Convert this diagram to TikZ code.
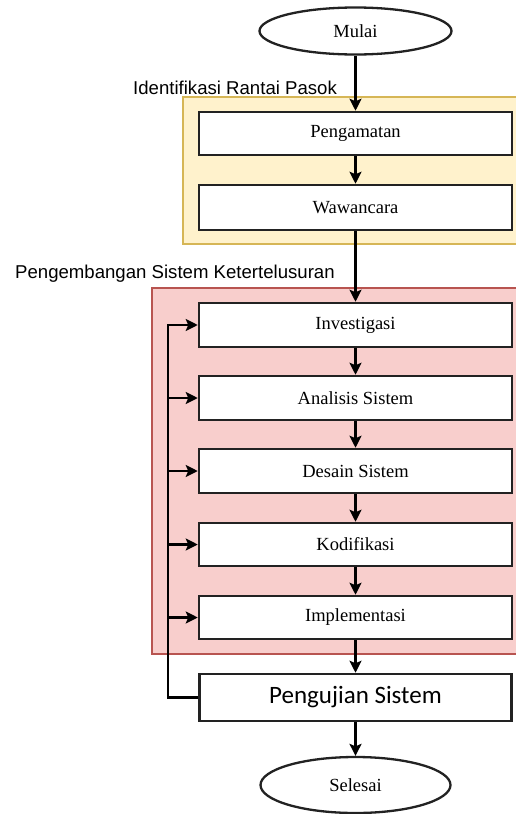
\documentclass[tikz,border=0pt]{standalone}
\usepackage{fontspec}
\setmainfont{Liberation Serif}
\newfontfamily\labfont{Liberation Sans}
\newfontfamily\calfont{Carlito}
\usetikzlibrary{arrows.meta,shapes.geometric}
\definecolor{yfill}{HTML}{FFF2CC}
\definecolor{ydraw}{HTML}{D6B656}
\definecolor{rfill}{HTML}{F8CECC}
\definecolor{rdraw}{HTML}{B85450}
\definecolor{boxline}{HTML}{222222}
\begin{document}
\begin{tikzpicture}[x=1pt,y=-1pt,
  stepbox/.style={draw=boxline,line width=2.5pt,fill=white,rectangle,minimum width=313pt,minimum height=44pt,inner sep=0pt,font=\fontsize{18.5}{20}\selectfont},
  termbox/.style={draw=boxline,line width=2.3pt,fill=white,ellipse,inner sep=0pt,font=\fontsize{18.5}{20}\selectfont},
  grouplabel/.style={anchor=west,inner sep=0pt,font=\labfont\fontsize{18.6}{20}\selectfont},
  flow/.style={line width=2.3pt,-{Stealth[length=12pt,width=12pt,inset=2.5pt]}}]
\useasboundingbox (0,0) rectangle (516,814);
\fill[white] (0,0) rectangle (516,814);
\begin{scope}
\clip (0,0) rectangle (516,814);
\draw[fill=yfill,draw=ydraw,line width=1.4pt] (183,97) rectangle (522,244);
\draw[fill=rfill,draw=rdraw,line width=1.4pt] (152,288) rectangle (522,654);
\end{scope}
\node[grouplabel] (lab1) at (133,88) {Identifikasi Rantai Pasok};
\node[grouplabel] (lab2) at (15,274) {Pengembangan Sistem Ketertelusuran};

\node[termbox,minimum width=192pt,minimum height=47pt] (mulai) at (355.5,31) {Mulai};
\node[stepbox,minimum height=43pt] (peng) at (355.5,133.5) {Pengamatan};
\node[stepbox,minimum height=45pt] (waw) at (355.5,207.5) {Wawancara};
\node[stepbox] (inv) at (355.5,325) {Investigasi};
\node[stepbox] (ana) at (355.5,398) {Analisis Sistem};
\node[stepbox] (des) at (355.5,471) {Desain Sistem};
\node[stepbox,minimum height=43pt] (kod) at (355.5,544.5) {Kodifikasi};
\node[stepbox,minimum height=43pt] (imp) at (355.5,617.5) {Implementasi};
\node[stepbox,minimum width=312pt,minimum height=47pt,font=\calfont\fontsize{25}{28}\selectfont] (uji) at (355.5,697.5) {Pengujian Sistem};
\node[termbox,minimum width=190pt,minimum height=56pt] (sel) at (355.5,785) {Selesai};

\draw[flow] (mulai) -- (peng);
\draw[flow] (peng) -- (waw);
\draw[flow] (waw) -- (inv);
\draw[flow] (inv) -- (ana);
\draw[flow] (ana) -- (des);
\draw[flow] (des) -- (kod);
\draw[flow] (kod) -- (imp);
\draw[flow] (imp) -- (uji);
\draw[flow] (uji) -- (sel);

\coordinate (fbtop) at (168,325);
\draw[flow] (uji.west) -| (fbtop) -- (inv.west);
\draw[flow] (ana.west -| fbtop) -- (ana.west);
\draw[flow] (des.west -| fbtop) -- (des.west);
\draw[flow] (kod.west -| fbtop) -- (kod.west);
\draw[flow] (imp.west -| fbtop) -- (imp.west);
\end{tikzpicture}
\end{document}
